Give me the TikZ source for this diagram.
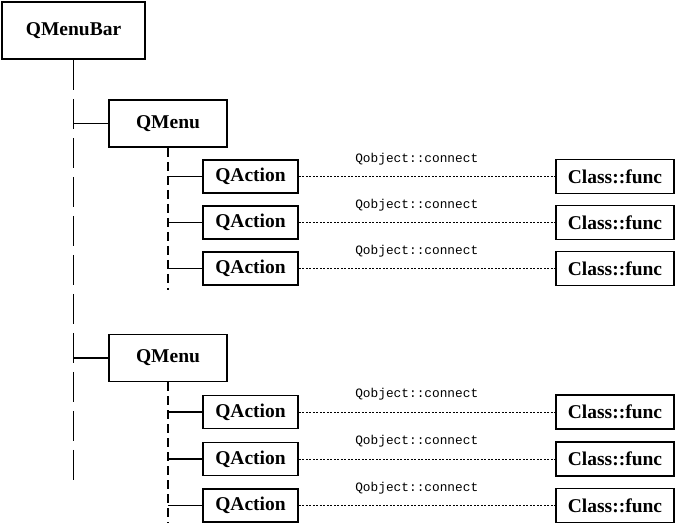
\documentclass[tikz,border=0pt]{standalone}
\usepackage{fontspec}
\setmainfont{Liberation Serif}
\newfontfamily\codefont{Liberation Mono}
\usepackage{tikz}

\begin{document}
\begin{tikzpicture}[x=1pt,y=-1pt,
	box/.style={draw,line width=1.8pt,inner sep=0pt,font=\fontsize{19.5}{22}\selectfont\bfseries},
	barbox/.style={box,minimum width=143pt,minimum height=57pt},
	menubox/.style={box,minimum width=118pt,minimum height=47pt},
	actbox/.style={box,minimum width=95pt,minimum height=33pt},
	funcbox/.style={box,minimum width=118pt,minimum height=34pt},
	trunk/.style={line width=1.8pt,dash pattern=on 30pt off 9pt},
	branch/.style={line width=1.8pt,dash pattern=on 9pt off 5pt},
	tie/.style={line width=1.5pt},
	link/.style={line width=1pt,dash pattern=on 2pt off 1.5pt},
	conn/.style={pos=0.46,above=8pt,font=\codefont\fontsize{12.8}{14}\selectfont}]
	\useasboundingbox (0,0) rectangle (676,527);
	%\draw[help lines] (0,0) grid[step=50] (676,527);
	\node[barbox] (bar) at (73.5,30.5) {QMenuBar};
	\coordinate (barEnd) at (73.5,483);
	\draw[trunk] (bar.south) -- (barEnd);

	% first menu
	\node[menubox] (menuA) at (168,123.5) {QMenu};
	\coordinate (menuAEnd) at (168,290);
	\draw[tie] (menuA.west) -- (menuA.west -| bar);
	\draw[branch] (menuA.south) -- (menuAEnd);
	\node[actbox] (actA1) at (250.5,176.5) {QAction};
	\node[actbox] (actA2) at (250.5,222.5) {QAction};
	\node[actbox] (actA3) at (250.5,268.5) {QAction};
	\node[funcbox] (funcA1) at (615,176.5) {Class::func};
	\node[funcbox] (funcA2) at (615,222.5) {Class::func};
	\node[funcbox] (funcA3) at (615,268.5) {Class::func};
	\draw[tie] (actA1.west) -- (actA1.west -| menuA);
	\draw[tie] (actA2.west) -- (actA2.west -| menuA);
	\draw[tie] (actA3.west) -- (actA3.west -| menuA);
	\draw[link] (actA1) -- node[conn] {Qobject::connect} (funcA1);
	\draw[link] (actA2) -- node[conn] {Qobject::connect} (funcA2);
	\draw[link] (actA3) -- node[conn] {Qobject::connect} (funcA3);

	% second menu
	\node[menubox] (menuB) at (168,358) {QMenu};
	\coordinate (menuBEnd) at (168,523);
	\draw[tie] (menuB.west) -- (menuB.west -| bar);
	\draw[branch] (menuB.south) -- (menuBEnd);
	\node[actbox] (actB1) at (250.5,412) {QAction};
	\node[actbox] (actB2) at (250.5,459) {QAction};
	\node[actbox] (actB3) at (250.5,505.5) {QAction};
	\node[funcbox] (funcB1) at (615,412) {Class::func};
	\node[funcbox] (funcB2) at (615,459) {Class::func};
	\node[funcbox] (funcB3) at (615,505.5) {Class::func};
	\draw[tie] (actB1.west) -- (actB1.west -| menuB);
	\draw[tie] (actB2.west) -- (actB2.west -| menuB);
	\draw[tie] (actB3.west) -- (actB3.west -| menuB);
	\draw[link] (actB1) -- node[conn] {Qobject::connect} (funcB1);
	\draw[link] (actB2) -- node[conn] {Qobject::connect} (funcB2);
	\draw[link] (actB3) -- node[conn] {Qobject::connect} (funcB3);
\end{tikzpicture}
\end{document}
